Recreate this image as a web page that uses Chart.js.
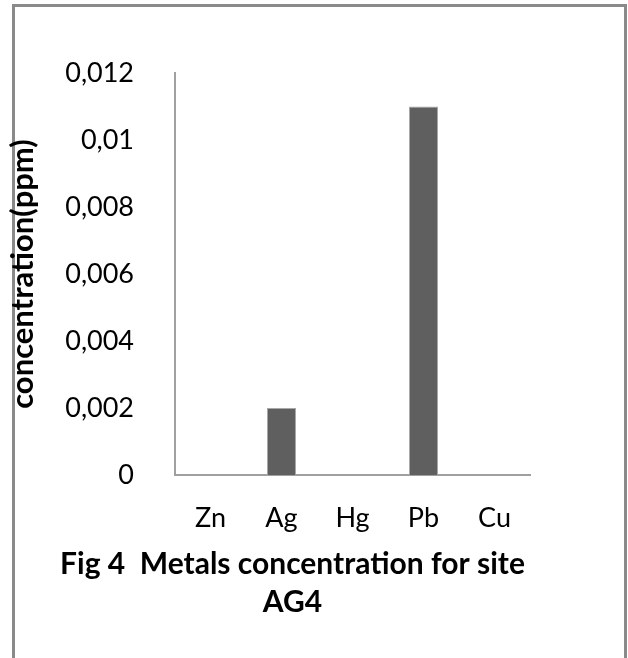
<!DOCTYPE html>
<html>
<head>
<meta charset="utf-8">
<script src="https://cdn.jsdelivr.net/npm/chart.js@4/dist/chart.umd.min.js"></script>
<style>
  body { margin: 0; background: #fff; width: 628px; height: 658px; overflow: hidden; position: relative; }
  #frame { position: absolute; left: 12px; top: 4px; width: 615px; height: 700px; box-sizing: border-box; border: 3px solid #8a8a8a; border-bottom: none; }
  #wrap { position: absolute; left: 0; top: 0; width: 585px; height: 640px; }
</style>
</head>
<body>
<div id="frame"></div>
<div id="wrap"><canvas id="metals" width="585" height="640"></canvas></div>
<script>
const metals = ["Zn", "Ag", "Hg", "Pb", "Cu"];
const concentration = [0, 0.002, 0, 0.011, 0];
const yTickLabels = ["0", "0,002", "0,004", "0,006", "0,008", "0,01", "0,012"];
const yTitle = "concentration(ppm)";
const caption = ["Fig 4  Metals concentration for site", "AG4"];

Chart.defaults.font.family = "Lato, 'Open Sans', sans-serif";
Chart.defaults.color = "#000";

// left padding keeps the caption centred where the original has it;
// the negative title padding pulls the axis title back to the frame edge
new Chart(document.getElementById("metals"), {
  type: "bar",
  data: {
    labels: metals,
    datasets: [{
      data: concentration,
      backgroundColor: "#5f5f5f",
      borderColor: "#a8a8a8",
      borderWidth: 1,
      categoryPercentage: 1,
      barPercentage: 0.41
    }]
  },
  options: {
    responsive: false,
    animation: false,
    layout: { padding: { left: 55, top: 73, right: 55, bottom: 19 } },
    scales: {
      x: {
        grid: { display: false },
        border: { display: true, color: "#a0a0a0", width: 2 },
        ticks: { font: { size: 27 }, padding: 19, maxRotation: 0 },
        afterFit: scale => { scale.height = 65; }
      },
      y: {
        min: 0,
        max: 0.012,
        grid: { display: false },
        border: { display: true, color: "#a0a0a0", width: 2 },
        ticks: {
          stepSize: 0.002,
          font: { size: 27 },
          padding: 33,
          callback: (value, i) => yTickLabels[i]
        },
        title: {
          display: true,
          text: yTitle,
          font: { size: 31, weight: "bold" },
          padding: { top: -51, bottom: 0 }
        },
        afterFit: scale => { scale.width = 120; }
      }
    },
    plugins: {
      legend: { display: false },
      tooltip: { enabled: false },
      title: {
        display: true,
        position: "bottom",
        text: caption,
        font: { size: 30, weight: "bold", lineHeight: 1.25 },
        padding: { top: 6, bottom: 0 }
      }
    }
  }
});
</script>
</body>
</html>
